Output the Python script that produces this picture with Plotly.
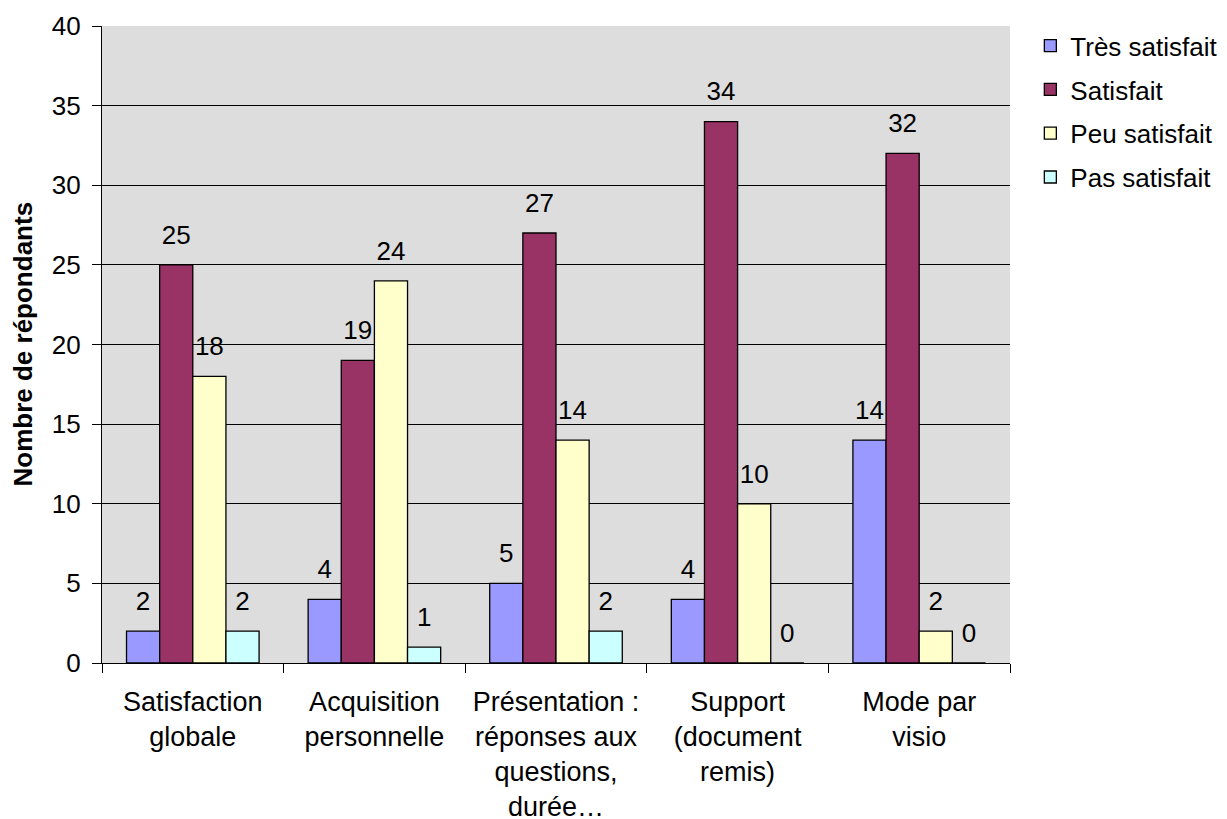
import plotly.graph_objects as go

categories = [
    "Satisfaction<br>globale",
    "Acquisition<br>personnelle",
    "Présentation :<br>réponses aux<br>questions,<br>durée…",
    "Support<br>(document<br>remis)",
    "Mode par<br>visio",
]
series_names = ["Très satisfait", "Satisfait", "Peu satisfait", "Pas satisfait"]
tres_satisfait = [2, 4, 5, 4, 14]
satisfait = [25, 19, 27, 34, 32]
peu_satisfait = [18, 24, 14, 10, 2]
pas_satisfait = [2, 1, 2, 0, 0]
y_ticks = [0, 5, 10, 15, 20, 25, 30, 35, 40]
y_title = "Nombre de répondants"

colors = ["#9999FF", "#993366", "#FFFFCC", "#CCFFFF"]
values = [tres_satisfait, satisfait, peu_satisfait, pas_satisfait]

FONT = "Liberation Sans, Arial, sans-serif"
GAP = 0.27
fig = go.Figure()
for i, (name, vals, col) in enumerate(zip(series_names, values, colors)):
    fig.add_trace(go.Bar(
        name=name, x=categories, y=vals, offsetgroup=str(i),
        legendgroup=str(i),
        marker=dict(color=col, line=dict(color="black", width=1.3)),
        hoverinfo="skip",
    ))
for i, vals in enumerate(values):
    fig.add_trace(go.Scatter(
        x=categories, y=vals, offsetgroup=str(i), mode="markers+text",
        text=[str(v) for v in vals], textposition="top center",
        textfont=dict(family=FONT, size=26, color="black"),
        marker=dict(size=22, opacity=0),
        showlegend=False, hoverinfo="skip", cliponaxis=False,
    ))

fig.update_layout(
    width=1250, height=819,
    margin=dict(l=94, r=248, t=18, b=164),
    paper_bgcolor="white", plot_bgcolor="#DDDDDD",
    barmode="group", bargap=GAP, bargroupgap=0,
    scattermode="group", scattergap=GAP,
    font=dict(family=FONT, size=27, color="black"),
    showlegend=True,
    legend=dict(x=1.0224, y=1.006, xanchor="left", yanchor="top",
                font=dict(size=26), bgcolor="rgba(0,0,0,0)",
                traceorder="grouped", tracegroupgap=7),
    annotations=[dict(
        text="<b>" + y_title + "</b>", xref="paper", yref="paper",
        x=-80 / 908, y=0.5, xanchor="center", yanchor="middle",
        textangle=-90, showarrow=False, font=dict(size=26, color="black"),
    )],
)
fig.update_yaxes(
    range=[0, 40], tickvals=y_ticks, showgrid=True, gridcolor="black", gridwidth=1,
    showline=True, linecolor="black", linewidth=1.3,
    ticks="outside", ticklen=9, tickcolor="black", ticklabelstandoff=6,
    tickfont=dict(size=26), zeroline=False, automargin=False,
)
fig.update_xaxes(
    showline=True, linecolor="black", linewidth=1.3,
    ticks="outside", ticklen=9, tickcolor="black", tickson="boundaries",
    tickfont=dict(size=27), tickangle=0, automargin=False, ticklabelstandoff=14,
)
fig.write_html("out.html")
